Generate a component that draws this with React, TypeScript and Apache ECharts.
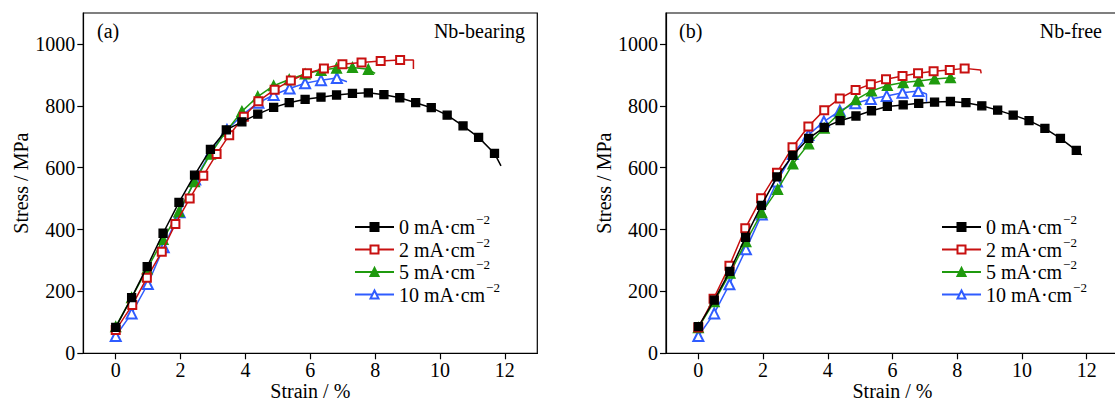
import React, { useEffect, useRef } from 'react';
import * as echarts from 'echarts';

const FONT = 'Liberation Serif, Times New Roman, serif';

// Legend entries (superscript −2 added by formatter)
const seriesNames = ['0 mA·cm', '2 mA·cm', '5 mA·cm', '10 mA·cm'];
const seriesColors = ['#000000', '#c81010', '#1f9a0e', '#2f5cff'];
const seriesSymbols = ['rect', 'emptyRect', 'triangle', 'emptyTriangle'];

// Axis ticks
const xTicks = [0, 2, 4, 6, 8, 10, 12];
const yTicks = [0, 200, 400, 600, 800, 1000];

// ---- (a) Nb-bearing ----
const a0Strain = [0, 0.49, 0.97, 1.46, 1.95, 2.43, 2.92, 3.41, 3.89, 4.38, 4.87, 5.35, 5.84, 6.33, 6.81, 7.3, 7.79, 8.27, 8.76, 9.25, 9.73, 10.22, 10.71, 11.19, 11.68];
const a0Stress = [84, 180, 280, 388, 488, 576, 659, 722, 748, 773, 795, 810, 821, 828, 835, 840, 842, 836, 826, 810, 794, 770, 735, 698, 646];
const a0Tail = [[11.88, 606]];

const a2Strain = [0, 0.51, 0.96, 1.42, 1.84, 2.28, 2.7, 3.11, 3.5, 3.95, 4.4, 4.9, 5.4, 5.9, 6.42, 6.99, 7.58, 8.17, 8.77];
const a2Stress = [75, 156, 244, 328, 418, 500, 574, 644, 705, 765, 815, 852, 882, 905, 921, 934, 940, 945, 948];
const a2Tail = [[9.18, 948], [9.18, 919]];

const a5Strain = [0, 0.49, 0.97, 1.46, 1.95, 2.43, 2.92, 3.41, 3.89, 4.38, 4.87, 5.35, 5.84, 6.33, 6.81, 7.3, 7.79];
const a5Stress = [86, 180, 273, 368, 458, 555, 644, 718, 782, 830, 865, 885, 903, 915, 922, 924, 918];
const a5Tail = [[8.0, 905]];

const a10Strain = [0, 0.49, 0.99, 1.48, 1.97, 2.45, 2.94, 3.43, 3.92, 4.4, 4.87, 5.36, 5.84, 6.33, 6.82];
const a10Stress = [56, 129, 224, 343, 456, 562, 652, 722, 772, 810, 835, 856, 873, 883, 890];
const a10Tail = [[7.13, 878]];

// ---- (b) Nb-free ----
const b0Strain = [0, 0.49, 0.97, 1.46, 1.95, 2.43, 2.92, 3.41, 3.89, 4.38, 4.87, 5.35, 5.84, 6.33, 6.81, 7.3, 7.79, 8.27, 8.76, 9.25, 9.73, 10.22, 10.71, 11.19, 11.68];
const b0Stress = [86, 172, 265, 375, 478, 570, 640, 695, 730, 752, 767, 784, 798, 803, 808, 812, 814, 810, 800, 786, 770, 752, 727, 695, 656];
const b0Tail = [[11.85, 641]];

const b2Strain = [0, 0.47, 0.96, 1.45, 1.94, 2.43, 2.91, 3.4, 3.89, 4.37, 4.86, 5.33, 5.8, 6.31, 6.79, 7.27, 7.77, 8.23];
const b2Stress = [83, 176, 283, 404, 501, 584, 666, 733, 786, 824, 851, 870, 886, 896, 905, 912, 916, 921];
const b2Tail = [[8.72, 916], [8.74, 905]];

const b5Strain = [0, 0.49, 0.98, 1.47, 1.96, 2.45, 2.92, 3.41, 3.89, 4.38, 4.87, 5.35, 5.84, 6.33, 6.81, 7.3, 7.79];
const b5Stress = [83, 167, 259, 361, 455, 530, 612, 677, 728, 778, 820, 848, 866, 875, 880, 887, 891];
const b5Tail = [[7.95, 889]];

const b10Strain = [0, 0.49, 0.96, 1.47, 1.96, 2.43, 2.92, 3.4, 3.88, 4.37, 4.85, 5.33, 5.82, 6.31, 6.8];
const b10Stress = [56, 129, 223, 336, 449, 555, 644, 706, 749, 784, 808, 822, 832, 842, 848];
const b10Tail = [[7.05, 838], [7.05, 813]];

const panelA = [
  [a0Strain, a0Stress, a0Tail],
  [a2Strain, a2Stress, a2Tail],
  [a5Strain, a5Stress, a5Tail],
  [a10Strain, a10Stress, a10Tail],
];
const panelB = [
  [b0Strain, b0Stress, b0Tail],
  [b2Strain, b2Stress, b2Tail],
  [b5Strain, b5Stress, b5Tail],
  [b10Strain, b10Stress, b10Tail],
];

function buildData(strain: number[], stress: number[], tail: number[][]) {
  const pts: any[] = strain.map((x, i) => [x, stress[i]]);
  tail.forEach((p) => pts.push({ value: p, symbol: 'none' }));
  return pts;
}

function makeSeries(panel: any[], axisIndex: number) {
  return panel.map(([strain, stress, tail], i) => ({
    name: seriesNames[i],
    type: 'line',
    xAxisIndex: axisIndex,
    yAxisIndex: axisIndex,
    data: buildData(strain, stress, tail),
    symbol: seriesSymbols[i],
    symbolSize: i >= 2 ? 10 : 8,
    showAllSymbol: true,
    lineStyle: { color: seriesColors[i], width: 1.5 },
    itemStyle: { color: seriesColors[i], borderColor: seriesColors[i], borderWidth: 1.3 },
    emphasis: { disabled: true },
    z: 10 - i,
  }));
}

function xAxis(gridIndex: number) {
  return {
    type: 'value',
    gridIndex,
    min: -1,
    max: 13,
    name: 'Strain / %',
    nameLocation: 'middle',
    nameGap: 28,
    nameMoveOverlap: false,
    nameTextStyle: { fontFamily: FONT, fontSize: 20, lineHeight: 20, color: '#000' },
    axisLine: { onZero: false, lineStyle: { color: '#000', width: 1.2 } },
    axisTick: { show: true, inside: false, length: 6, customValues: xTicks, lineStyle: { color: '#000', width: 1.2 } },
    axisLabel: { customValues: xTicks, formatter: (v: number) => String(v), margin: 7, fontFamily: FONT, fontSize: 20, color: '#000' },
    splitLine: { show: false },
  };
}

function yAxis(gridIndex: number) {
  return {
    type: 'value',
    gridIndex,
    min: 0,
    max: 1100,
    name: 'Stress / MPa',
    nameLocation: 'middle',
    nameGap: 52,
    nameMoveOverlap: false,
    nameTextStyle: { fontFamily: FONT, fontSize: 20, color: '#000' },
    axisLine: { show: true, onZero: false, lineStyle: { color: '#000', width: 1.2 } },
    axisTick: { show: true, inside: false, length: 6, customValues: yTicks, lineStyle: { color: '#000', width: 1.2 } },
    axisLabel: { customValues: yTicks, formatter: (v: number) => String(v), margin: 8, fontFamily: FONT, fontSize: 20, color: '#000' },
    splitLine: { show: false },
  };
}

function legend(left: number) {
  return {
    orient: 'vertical',
    left,
    top: 208,
    itemWidth: 39,
    itemHeight: 10,
    itemGap: -1.5,
    data: seriesNames,
    selectedMode: false,
    formatter: (name: string) => `{n|${name}}{s|−2}`,
    textStyle: {
      fontFamily: FONT,
      fontSize: 20,
      color: '#000',
      rich: {
        n: { fontFamily: FONT, fontSize: 20, lineHeight: 28, verticalAlign: 'middle', color: '#000' },
        s: { fontFamily: FONT, fontSize: 13, lineHeight: 13, verticalAlign: 'top', color: '#000', padding: [0, 0, 0, 1] },
      },
    },
  };
}

function label(text: string, x: number, y: number, align: string) {
  return {
    type: 'text',
    x,
    y,
    z: 50,
    style: { text, fill: '#000', font: `20px ${FONT}`, align, verticalAlign: 'middle' },
  };
}

export default function App() {
  const ref = useRef<HTMLDivElement>(null);
  useEffect(() => {
    if (!ref.current) return;
    const chart = echarts.init(ref.current, null, { renderer: 'svg' });
    chart.setOption({
      animation: false,
      backgroundColor: '#fff',
      grid: [
        { left: 83.3, top: 13, width: 454, height: 340.3, show: true, borderColor: '#000', borderWidth: 1.2, backgroundColor: 'transparent', containLabel: false, outerBoundsMode: 'none' },
        { left: 666, top: 13, width: 453, height: 340.3, show: true, borderColor: '#000', borderWidth: 1.2, backgroundColor: 'transparent', containLabel: false, outerBoundsMode: 'none' },
      ],
      xAxis: [xAxis(0), xAxis(1)],
      yAxis: [yAxis(0), yAxis(1)],
      legend: [legend(349), legend(936)],
      graphic: [
        label('(a)', 97, 31, 'left'),
        label('Nb-bearing', 525, 31, 'right'),
        label('(b)', 679, 31, 'left'),
        label('Nb-free', 1102, 31, 'right'),
      ],
      series: [...makeSeries(panelA, 0), ...makeSeries(panelB, 1)],
    });
    return () => chart.dispose();
  }, []);
  return (
    <div style={{ position: 'absolute', left: 0, top: 0, width: 1115, height: 403, overflow: 'hidden', background: '#fff' }}>
      <div ref={ref} style={{ width: 1125, height: 403 }} />
    </div>
  );
}
